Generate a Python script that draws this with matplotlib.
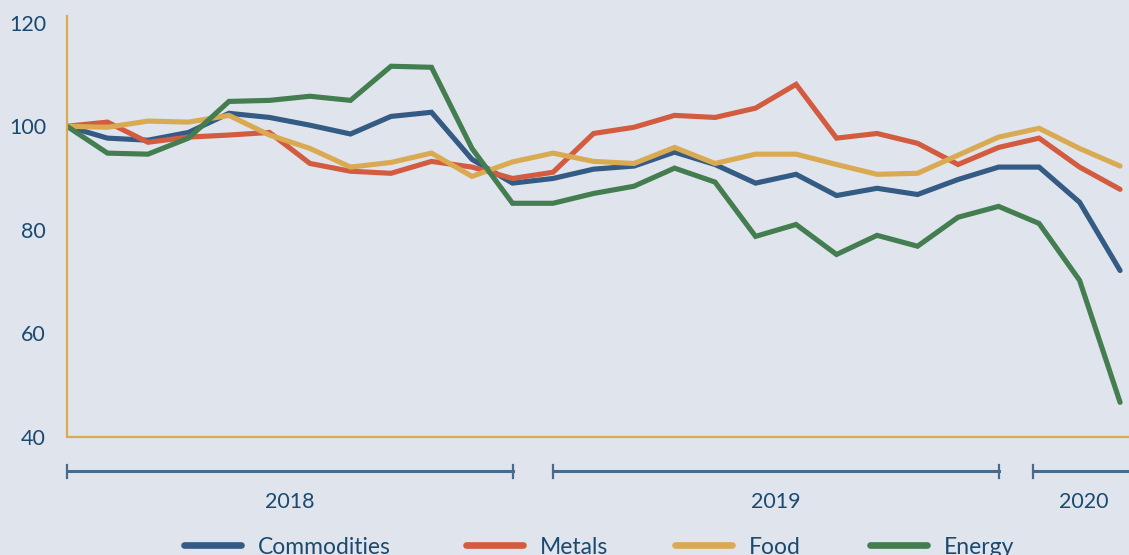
import matplotlib
matplotlib.use("Agg")
import matplotlib.pyplot as plt
from matplotlib.lines import Line2D

plt.rcParams.update({
    "font.family": ["Lato", "DejaVu Sans"],
    "font.size": 14,
})

# monthly index, Jan 2018 = 100 (Jan 2018 .. Mar 2020)
commodities = [100, 97.7, 97.3, 98.8, 102.5, 101.7, 100.2, 98.5, 101.9, 102.7, 93.6, 89.0,
               89.9, 91.7, 92.3, 95.0, 92.6, 89.0, 90.7, 86.6, 88.0, 86.8, 89.7, 92.1,
               92.1, 85.3, 72.1]
metals = [100, 100.8, 96.9, 97.9, 98.3, 98.8, 92.8, 91.3, 90.9, 93.2, 92.1, 89.9,
          91.1, 98.6, 99.8, 102.1, 101.7, 103.5, 108.1, 97.7, 98.6, 96.7, 92.6, 95.9,
          97.7, 92.1, 87.8]
food = [100, 99.8, 101.0, 100.8, 102.1, 98.3, 95.7, 92.1, 93.0, 94.8, 90.3, 93.1,
        94.8, 93.2, 92.8, 95.9, 92.8, 94.6, 94.6, 92.6, 90.7, 90.9, 94.4, 97.9,
        99.6, 95.7, 92.3]
energy = [100, 94.8, 94.6, 97.7, 104.8, 105.0, 105.8, 105.0, 111.6, 111.4, 95.7, 85.1,
          85.1, 87.0, 88.4, 91.9, 89.2, 78.7, 81.0, 75.2, 78.9, 76.8, 82.4, 84.5,
          81.2, 70.2, 46.6]

series_names = ["Commodities", "Metals", "Food", "Energy"]
series_values = [commodities, metals, food, energy]
series_colors = ["#335b83", "#d35b3f", "#d9aa52", "#437d50"]

years = ["2018", "2019", "2020"]
year_spans = [(0, 11), (12, 23), (23.85, 27)]
year_label_x = [5.5, 17.5, 25.1]

yticks = [40, 60, 80, 100, 120]

bg = "#e0e5ed"
text_c = "#1b4a70"
axis_c = "#d9aa52"
bracket_c = "#4a6a8c"

fig = plt.figure(figsize=(11.29, 5.55), dpi=100, facecolor=bg)
ax = fig.add_axes([0.0593, 0.2135, 0.9407, 0.7575])
ax.set_facecolor(bg)

x = list(range(len(commodities)))
for vals, col in zip(series_values, series_colors):
    ax.plot(x, vals, color=col, lw=3.7, solid_joinstyle="miter", solid_capstyle="round")

ax.set_xlim(0, 26.22)
ax.set_ylim(40, 121.3)
ax.set_yticks(yticks)
ax.set_xticks([])
ax.tick_params(axis="y", length=0, pad=15, labelsize=15.5, labelcolor=text_c)
for s in ["top", "right"]:
    ax.spines[s].set_visible(False)
for s in ["left", "bottom"]:
    ax.spines[s].set_color(axis_c)
    ax.spines[s].set_linewidth(1.6)

# year brackets below the axis
trans = ax.get_xaxis_transform()
for yr, (a, b), lx in zip(years, year_spans, year_label_x):
    ax.plot([a, b], [-0.083, -0.083], color=bracket_c, lw=2.2, transform=trans, clip_on=False)
    for e in (a, b):
        ax.plot([e, e], [-0.068, -0.098], color=bracket_c, lw=1.6, transform=trans, clip_on=False)
    ax.text(lx, -0.155, yr, transform=trans, ha="center", va="center",
            fontsize=15.5, color=text_c)

# legend drawn by hand along the bottom
leg_x = [184, 466, 675, 870]
leg_y = 1 - 545 / 555
for name, col, lx in zip(series_names, series_colors, leg_x):
    fig.add_artist(Line2D([lx / 1129, (lx + 57) / 1129], [leg_y, leg_y], color=col, lw=4.8,
                          solid_capstyle="round", transform=fig.transFigure))
    fig.text((lx + 74) / 1129, leg_y - 0.004, name, ha="left", va="center", fontsize=16.5,
             color=text_c)

fig.savefig("out.png", dpi=100, facecolor=bg)
